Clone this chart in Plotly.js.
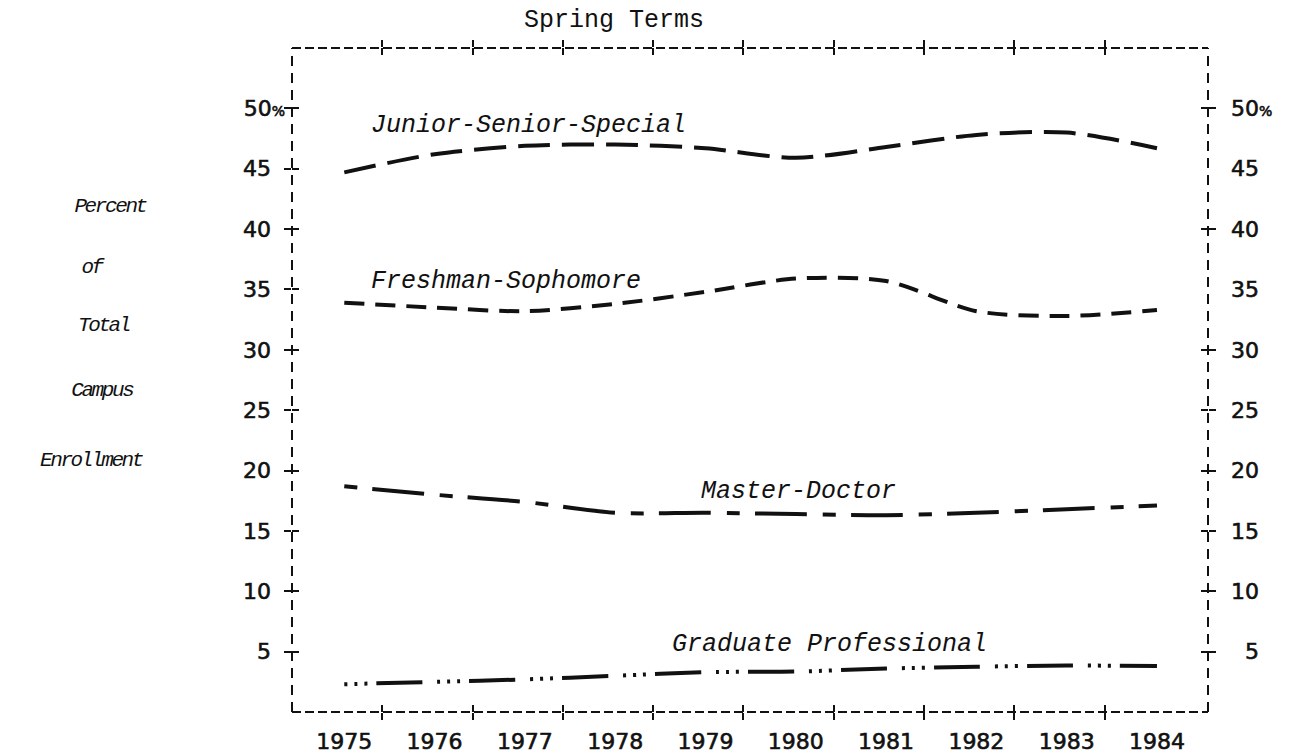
<!DOCTYPE html>
<html>
<head>
<meta charset="utf-8">
<script src="https://cdn.plot.ly/plotly-3.0.1.min.js"></script>
<style>
  html, body { margin: 0; padding: 0; background: #ffffff; }
  #chart { width: 1294px; height: 755px; }
  /* slightly heavier typewriter-like tick numerals */
  #chart g[class$="tick"] text { stroke: #111111; stroke-width: 0.6px; }
  /* condensed typewriter italic for the stacked axis caption */
  #chart g.annotation[data-index="4"] text,
  #chart g.annotation[data-index="5"] text,
  #chart g.annotation[data-index="6"] text,
  #chart g.annotation[data-index="7"] text,
  #chart g.annotation[data-index="8"] text { letter-spacing: -2.4px; }
</style>
</head>
<body>
<div id="chart"></div>
<script>
// ---- data ----
const years = [1975, 1976, 1977, 1978, 1979, 1980, 1981, 1982, 1983, 1984];
const yearLabels = ['1975', '1976', '1977', '1978', '1979', '1980', '1981', '1982', '1983', '1984'];

const juniorSeniorSpecial = [44.7, 46.2, 46.9, 47.0, 46.7, 45.9, 46.8, 47.8, 48.0, 46.7];
const freshmanSophomore   = [33.9, 33.5, 33.2, 33.8, 34.8, 35.9, 35.7, 33.2, 32.8, 33.3];
const masterDoctor        = [18.7, 18.0, 17.4, 16.5, 16.5, 16.4, 16.3, 16.5, 16.8, 17.1];
const graduateProfessional = [2.3, 2.5, 2.7, 3.0, 3.3, 3.35, 3.6, 3.75, 3.85, 3.8];

const seriesNames = ['Junior-Senior-Special', 'Freshman-Sophomore', 'Master-Doctor', 'Graduate Professional'];

const yTickValues = [5, 10, 15, 20, 25, 30, 35, 40, 45, 50];
const yTickLabels = ['5', '10', '15', '20', '25', '30', '35', '40', '45', '50%'];
const rightCrossValues = [5, 10, 15, 20, 25, 30, 40, 50];   // right border "+" marks (none at 35, 45)

const titleText = 'Spring Terms';
const yTitleLines = ['Percent', 'of', 'Total', 'Campus', 'Enrollment'];

// ---- styling ----
const INK = '#111111';
const FIG = '\u2007';
const tickFont = { family: 'DejaVu Sans', size: 22, color: INK };
const typeFont = { family: 'Liberation Mono', size: 25, color: INK, style: 'italic' };
const smallPct = '<span style="font-size:14px">%</span>';

function leftLabel(t) {
  return t.endsWith('%') ? t.slice(0, -1) + smallPct : t + FIG;
}
function rightLabel(t) {
  if (t.endsWith('%')) return t.slice(0, -1) + smallPct;
  return t.length === 1 ? FIG + t : t;
}

const xRange = [1974.421, 1984.565];
const yRange = [0, 55];
const crossX = years.slice(0, 9).map(y => y + 0.42);

function lineTrace(values, dash) {
  return {
    x: years, y: values, type: 'scatter', mode: 'lines',
    line: { color: INK, width: 4, dash: dash, shape: 'spline', smoothing: 0.8 },
    hoverinfo: 'skip', showlegend: false
  };
}
// empty helper traces so that the overlaid tick/label axes are drawn
function axisHolder(xa, ya) {
  return { x: [], y: [], xaxis: xa, yaxis: ya, type: 'scatter', mode: 'lines',
           hoverinfo: 'skip', showlegend: false };
}

const traces = [
  lineTrace(juniorSeniorSpecial, '32px,12px'),
  lineTrace(freshmanSophomore, '20px,11px'),
  lineTrace(masterDoctor, '13px,15px,52px,16px'),
  lineTrace(graduateProfessional, '3px,7px,3px,7px,3px,9px,46px,15px'),
  axisHolder('x2', 'y'), axisHolder('x3', 'y'),
  axisHolder('x', 'y2'), axisHolder('x', 'y3'), axisHolder('x', 'y4'),
  axisHolder('x', 'y5'), axisHolder('x', 'y6')
];

const baseAxis = {
  showgrid: false, zeroline: false, showline: false, fixedrange: true,
  tickcolor: INK, tickwidth: 2
};

const seriesLabelPos = [
  { x: 1977.04, y: 48.55 },
  { x: 1976.79, y: 35.63 },
  { x: 1980.03, y: 18.23 },
  { x: 1980.37, y: 5.63 }
];

const annotations = seriesNames.map((name, i) => ({
  text: name, xref: 'x', yref: 'y', x: seriesLabelPos[i].x, y: seriesLabelPos[i].y,
  showarrow: false, xanchor: 'center', yanchor: 'middle', font: typeFont
}));

const yTitlePos = [
  { x: -0.1987, y: 0.7620 },
  { x: -0.2183, y: 0.6687 },
  { x: -0.2062, y: 0.5828 },
  { x: -0.2074, y: 0.4849 },
  { x: -0.2194, y: 0.3795 }
];
yTitleLines.forEach((t, i) => {
  annotations.push({
    text: t, xref: 'paper', yref: 'paper', x: yTitlePos[i].x, y: yTitlePos[i].y,
    showarrow: false, xanchor: 'center', yanchor: 'middle',
    font: { family: 'Liberation Mono', size: 21, color: INK, style: 'italic' }
  });
});

const frameH = { color: INK, width: 2, dash: '9px,4px' };
const frameV = { color: INK, width: 2, dash: '10px,7px' };
const shapes = [
  { type: 'line', xref: 'paper', yref: 'paper', x0: 0, x1: 1, y0: 1, y1: 1, line: frameH },
  { type: 'line', xref: 'paper', yref: 'paper', x0: 0, x1: 1, y0: 0, y1: 0, line: frameH },
  { type: 'line', xref: 'paper', yref: 'paper', x0: 0, x1: 0, y0: 0, y1: 1, line: frameV },
  { type: 'line', xref: 'paper', yref: 'paper', x0: 1, x1: 1, y0: 0, y1: 1, line: frameV }
];

function crossAxisX(dir) {
  return Object.assign({}, baseAxis, {
    overlaying: 'x', anchor: 'y', range: xRange, tickmode: 'array', tickvals: crossX,
    ticks: dir, ticklen: 7, mirror: 'ticks', showticklabels: false
  });
}
function crossAxisY(side, dir, vals) {
  return Object.assign({}, baseAxis, {
    overlaying: 'y', anchor: 'x', side: side, range: yRange, tickmode: 'array',
    tickvals: vals, ticks: dir, ticklen: 7, showticklabels: false
  });
}

const layout = {
  width: 1294, height: 755,
  margin: { l: 292, r: 86, t: 48, b: 43, pad: 0 },
  paper_bgcolor: '#ffffff', plot_bgcolor: '#ffffff',
  showlegend: false,
  title: {
    text: titleText,
    font: { family: 'Liberation Mono', size: 25, color: INK },
    xref: 'container', x: 614 / 1294, xanchor: 'center',
    yref: 'container', y: 1 - 18 / 755, yanchor: 'middle'
  },
  xaxis: Object.assign({}, baseAxis, {
    range: xRange, tickmode: 'array', tickvals: years, ticktext: yearLabels,
    ticks: '', tickfont: tickFont, ticklabelstandoff: 14
  }),
  xaxis2: crossAxisX('outside'),
  xaxis3: crossAxisX('inside'),
  yaxis: Object.assign({}, baseAxis, {
    range: yRange, tickmode: 'array', tickvals: yTickValues,
    ticktext: yTickLabels.map(leftLabel),
    ticks: '', tickfont: tickFont, ticklabelstandoff: 6
  }),
  yaxis2: crossAxisY('left', 'outside', yTickValues),
  yaxis3: crossAxisY('left', 'inside', yTickValues),
  yaxis4: Object.assign({}, baseAxis, {
    overlaying: 'y', anchor: 'x', side: 'right', range: yRange, tickmode: 'array',
    tickvals: yTickValues, ticktext: yTickLabels.map(rightLabel),
    ticks: '', tickfont: tickFont, ticklabelstandoff: 22
  }),
  yaxis5: crossAxisY('right', 'outside', rightCrossValues),
  yaxis6: crossAxisY('right', 'inside', rightCrossValues),
  annotations: annotations,
  shapes: shapes
};

Plotly.newPlot('chart', traces, layout, { staticPlot: true, displayModeBar: false });
</script>
</body>
</html>
